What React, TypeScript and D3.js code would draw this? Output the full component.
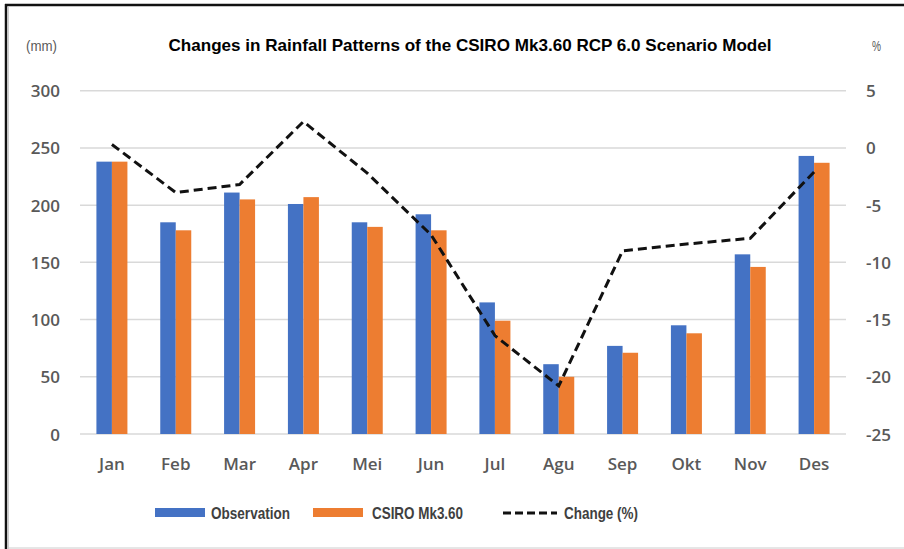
import { useRef, useEffect } from 'react';
import * as d3 from 'd3';

// ---------------------------------------------------------------------------
// Data
// ---------------------------------------------------------------------------
const MONTHS = ['Jan', 'Feb', 'Mar', 'Apr', 'Mei', 'Jun', 'Jul', 'Agu', 'Sep', 'Okt', 'Nov', 'Des'];
const OBSERVATION = [238, 185, 211, 201, 185, 192, 115, 61, 77, 95, 157, 243];
const CSIRO = [238, 178, 205, 207, 181, 178, 99, 50, 71, 88, 146, 237];
const CHANGE = [0.3, -3.9, -3.2, 2.3, -2.2, -7.6, -16.4, -20.8, -9.0, -8.4, -7.9, -2.1];
const LEFT_TICKS = [0, 50, 100, 150, 200, 250, 300];
const RIGHT_TICKS = [-25, -20, -15, -10, -5, 0, 5];

// ---------------------------------------------------------------------------
// Colors
// ---------------------------------------------------------------------------
const BLUE = '#4472c4';
const ORANGE = '#ed7d31';
const GRID = '#d9d9d9';
const TICK_COLOR = '#595959';
const LEGEND_COLOR = '#404040';

const W = 904;
const H = 549;

export default function App() {
  const svgRef = useRef<SVGSVGElement>(null);

  useEffect(() => {
    const svg = svgRef.current;
    if (!svg) return;
    const sel = d3.select(svg);
    sel.selectAll('*').remove();

    const plot = { left: 80, right: 846, top: 90.7, bottom: 434 };

    const x = d3.scaleBand<string>().domain(MONTHS).range([plot.left, plot.right]);
    const yL = d3.scaleLinear().domain([0, 300]).range([plot.bottom, plot.top]);
    const yR = d3.scaleLinear().domain([-25, 5]).range([plot.bottom, plot.top]);
    const barW = 15.5;

    // frame
    sel.append('rect').attr('width', W).attr('height', H).attr('fill', '#fff');
    sel.append('line').attr('x1', 6).attr('x2', 6).attr('y1', 4).attr('y2', H)
      .attr('stroke', '#111').attr('stroke-width', 2.5);
    sel.append('line').attr('x1', 5).attr('x2', W).attr('y1', 5).attr('y2', 5)
      .attr('stroke', '#111').attr('stroke-width', 2.5);
    sel.append('line').attr('x1', 8.5).attr('x2', 8.5).attr('y1', 7).attr('y2', H)
      .attr('stroke', '#ccc').attr('stroke-width', 1);
    sel.append('line').attr('x1', 7).attr('x2', W).attr('y1', 548).attr('y2', 548)
      .attr('stroke', '#ccc').attr('stroke-width', 1);

    // gridlines
    LEFT_TICKS.forEach((t) => {
      sel.append('line')
        .attr('x1', plot.left).attr('x2', plot.right)
        .attr('y1', yL(t)).attr('y2', yL(t))
        .attr('stroke', GRID).attr('stroke-width', 1.5);
    });

    const tickFont = (t: d3.Selection<SVGTextElement, unknown, null, undefined>) =>
      t.attr('dominant-baseline', 'central')
        .attr('fill', TICK_COLOR).attr('font-family', '"Open Sans", sans-serif')
        .attr('font-weight', 600).attr('font-size', '17px');

    // left ticks
    LEFT_TICKS.forEach((t) => {
      sel.append('text')
        .attr('x', 60).attr('y', yL(t))
        .attr('text-anchor', 'end')
        .call(tickFont)
        .text(t);
    });

    // right ticks
    RIGHT_TICKS.forEach((t) => {
      sel.append('text')
        .attr('x', 866).attr('y', yR(t))
        .attr('text-anchor', 'start')
        .call(tickFont)
        .text(t);
    });

    // month labels
    MONTHS.forEach((m) => {
      sel.append('text')
        .attr('x', (x(m) ?? 0) + x.bandwidth() / 2).attr('y', 463)
        .attr('text-anchor', 'middle')
        .call(tickFont)
        .text(m);
    });

    // bars
    MONTHS.forEach((m, i) => {
      const cx = (x(m) ?? 0) + x.bandwidth() / 2;
      sel.append('rect')
        .attr('x', cx - barW).attr('y', yL(OBSERVATION[i]))
        .attr('width', barW).attr('height', yL(0) - yL(OBSERVATION[i]))
        .attr('fill', BLUE);
      sel.append('rect')
        .attr('x', cx).attr('y', yL(CSIRO[i]))
        .attr('width', barW).attr('height', yL(0) - yL(CSIRO[i]))
        .attr('fill', ORANGE);
    });

    // change line
    const line = d3.line<number>()
      .x((_, i) => (x(MONTHS[i]) ?? 0) + x.bandwidth() / 2)
      .y((d) => yR(d));
    sel.append('path')
      .datum(CHANGE)
      .attr('d', line)
      .attr('fill', 'none')
      .attr('stroke', '#111')
      .attr('stroke-width', 3)
      .attr('stroke-dasharray', '9,5');

    // title + axis units
    sel.append('text')
      .attr('x', 470).attr('y', 45)
      .attr('text-anchor', 'middle').attr('dominant-baseline', 'central')
      .attr('font-family', '"Liberation Sans", Arial, sans-serif')
      .attr('font-weight', 700).attr('font-size', '16.5px')
      .attr('textLength', 603).attr('lengthAdjust', 'spacingAndGlyphs')
      .attr('fill', '#000')
      .text('Changes in Rainfall Patterns of the CSIRO Mk3.60 RCP 6.0 Scenario Model');
    sel.append('text')
      .attr('x', 26).attr('y', 45).attr('dominant-baseline', 'central')
      .attr('font-family', '"Liberation Sans", Arial, sans-serif')
      .attr('font-size', '15px').attr('fill', TICK_COLOR)
      .attr('textLength', 31).attr('lengthAdjust', 'spacingAndGlyphs')
      .text('(mm)');
    sel.append('text')
      .attr('x', 872).attr('y', 45).attr('dominant-baseline', 'central')
      .attr('font-family', '"Liberation Sans", Arial, sans-serif')
      .attr('font-size', '15px').attr('fill', TICK_COLOR)
      .attr('textLength', 9).attr('lengthAdjust', 'spacingAndGlyphs')
      .text('%');

    // legend
    const ly = 513;
    const legendFont = (t: d3.Selection<SVGTextElement, unknown, null, undefined>) =>
      t.attr('dominant-baseline', 'central')
        .attr('font-family', '"Liberation Sans", Arial, sans-serif')
        .attr('font-weight', 700).attr('font-size', '17px')
        .attr('lengthAdjust', 'spacingAndGlyphs')
        .attr('fill', LEGEND_COLOR);

    sel.append('rect').attr('x', 155).attr('y', ly - 5).attr('width', 50).attr('height', 9).attr('fill', BLUE);
    sel.append('text').attr('x', 211).attr('y', ly).call(legendFont)
      .attr('textLength', 79).text('Observation');
    sel.append('rect').attr('x', 313).attr('y', ly - 5).attr('width', 50).attr('height', 9).attr('fill', ORANGE);
    sel.append('text').attr('x', 372).attr('y', ly).call(legendFont)
      .attr('textLength', 91).text('CSIRO Mk3.60');
    sel.append('line')
      .attr('x1', 503).attr('x2', 557).attr('y1', ly).attr('y2', ly)
      .attr('stroke', '#111').attr('stroke-width', 3).attr('stroke-dasharray', '8,4');
    sel.append('text').attr('x', 564).attr('y', ly).call(legendFont)
      .attr('textLength', 74).text('Change (%)');
  }, []);

  return (
    <svg
      ref={svgRef}
      width={W}
      height={H}
      style={{ position: 'absolute', left: 0, top: 0, display: 'block' }}
    />
  );
}
